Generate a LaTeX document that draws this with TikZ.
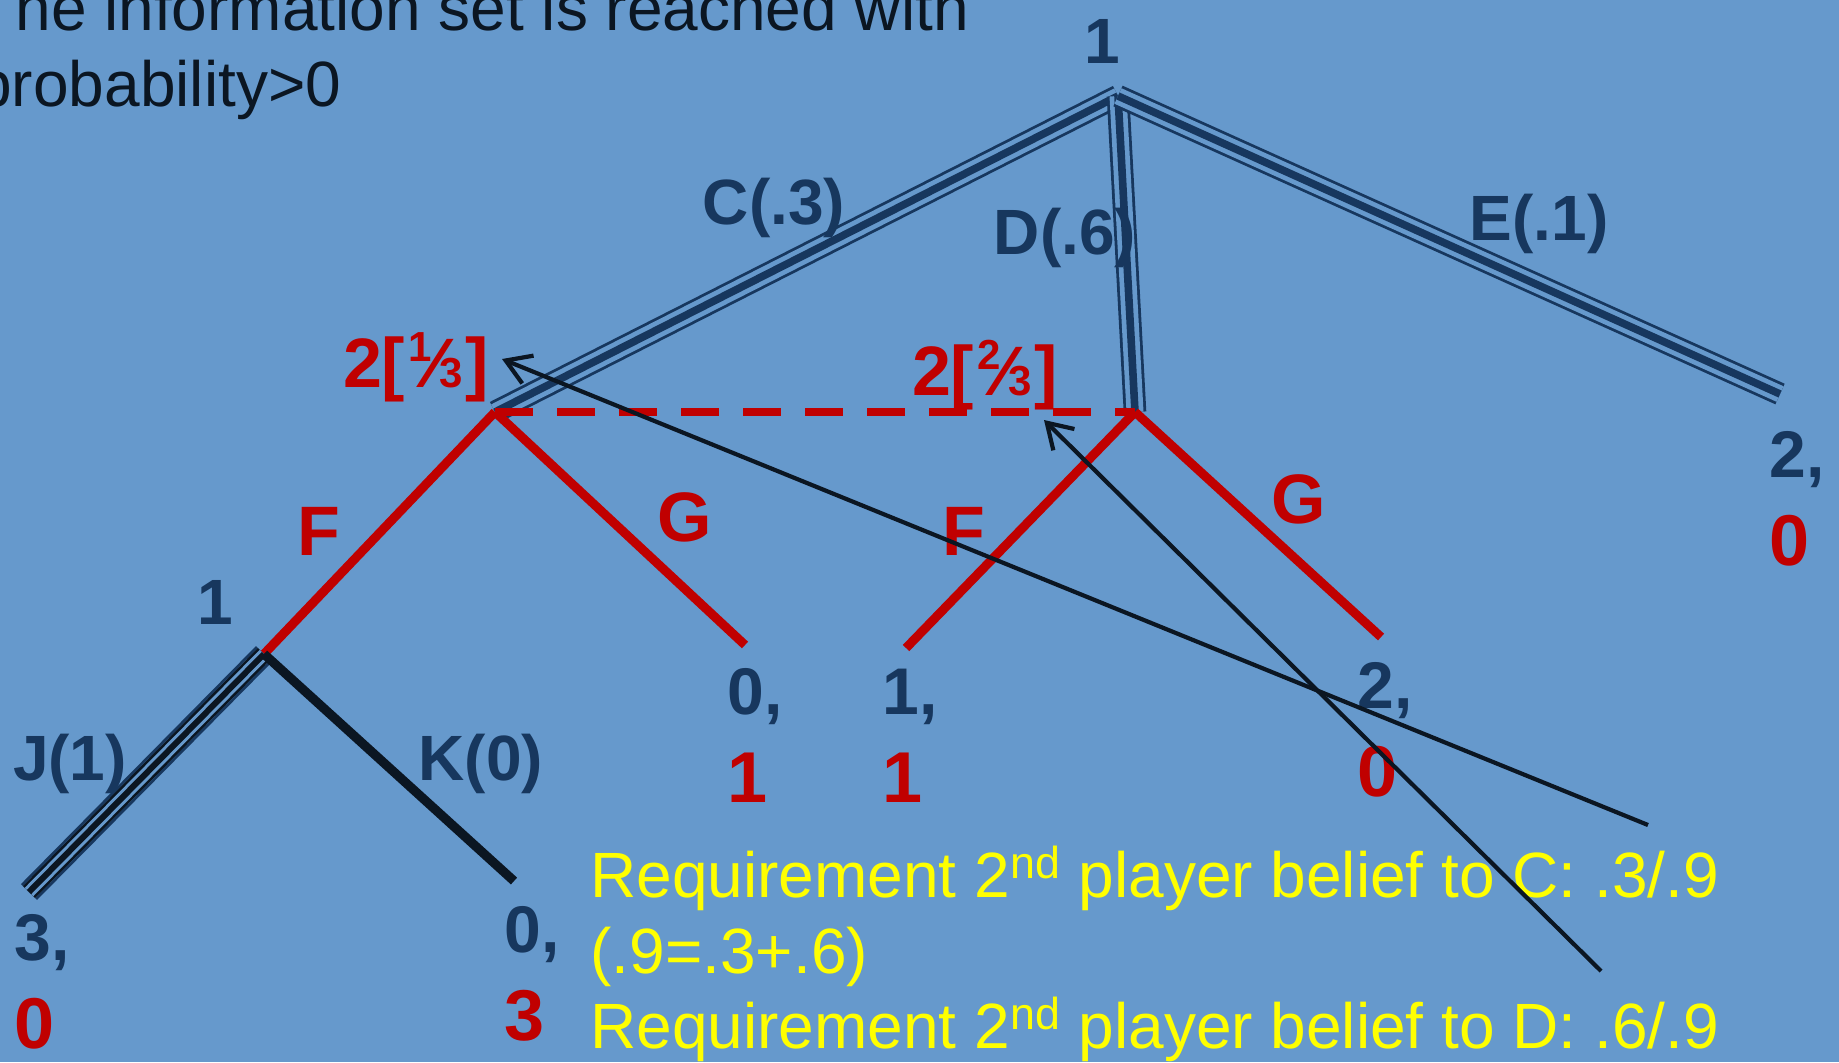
\documentclass[tikz,border=0pt]{standalone}
\usepackage{fontspec}
\setmainfont{Liberation Sans}
\usetikzlibrary{arrows.meta}
\definecolor{slide}{HTML}{6699CC}
\definecolor{ink}{HTML}{17375E}
\definecolor{pptred}{HTML}{C00000}
\definecolor{hint}{HTML}{FFFF00}
\definecolor{pen}{HTML}{0B1622}
\newcommand{\frc}[2]{\kern1.5pt\raisebox{13pt}{\fontsize{21}{21}\selectfont #1}%
  \kern-1pt⁄\kern-1pt{\fontsize{21}{21}\selectfont #2}\kern1.5pt}

\begin{document}
\begin{tikzpicture}[
    x=0.5pt, y=-0.5pt,
    >={Straight Barb[length=12pt,width=15pt]},
    lab/.style={font=\fontsize{32}{32}\selectfont\bfseries, text=ink,
                inner sep=0pt, anchor=base},
    rlab/.style={lab, font=\fontsize{35}{35}\selectfont\bfseries, text=pptred},
    pay/.style={font=\fontsize{33}{33}\selectfont\bfseries, text=ink,
                inner sep=0pt, anchor=base west},
    rpay/.style={pay, font=\fontsize{36}{36}\selectfont\bfseries, text=pptred},
    txt/.style={font=\fontsize{32}{32}\selectfont, inner sep=0pt, anchor=base west},
    move/.style={ink, line width=3.8pt,
                 preaction={draw, ink, line width=1.4pt, double=slide, double distance=8.5pt}},
    bmove/.style={move, pen, line width=3pt,
                  preaction={draw, pen, line width=1.3pt, double=slide, double distance=6pt}},
    kmove/.style={pen, line width=4.6pt},
    rmove/.style={pptred, line width=4.5pt},
    iset/.style={pptred, line width=4pt, dash pattern=on 19pt off 12pt},
    ptr/.style={->, line width=2.1pt, pen},
  ]

  \fill[slide] (0,0) rectangle (1839,1062);
  \useasboundingbox (0,0) rectangle (1839,1062);

  %% ---- heading ------------------------------------------------------
  \node[txt, text=pen] (head1) at (-24,30)  {The information set is reached with};
  \node[txt, text=pen] (head2) at (-24,106) {probability>0};

  %% ---- decision points ----------------------------------------------
  \coordinate (R)    at (1118,96);
  \coordinate (L2)   at (495,412);
  \coordinate (M2)   at (1135,412);
  \coordinate (Eend) at (1780,394);
  \coordinate (L1)   at (264,654);
  \coordinate (Gl)   at (745,645);
  \coordinate (Fr)   at (906,648);
  \coordinate (Gr)   at (1381,637);
  \coordinate (Jend) at (29,892);
  \coordinate (Kend) at (514,881);

  %% ---- first move of player 1 ---------------------------------------
  \draw[move] (R) -- (L2);
  \draw[move] (R) -- (M2);
  \draw[move] (R) -- (Eend);
  \node[lab] (root) at (1102,63)  {1};
  \node[lab] (mC)   at (774,224)  {C(.3)};
  \node[lab] (mD)   at (1065,254) {D(.6)};
  \node[lab] (mE)   at (1539,240) {E(.1)};

  %% ---- player 2 information set -------------------------------------
  \draw[iset] (L2) -- (M2);
  \draw[rmove] (L2) -- (L1);
  \draw[rmove] (L2) -- (Gl);
  \draw[rmove] (M2) -- (Fr);
  \draw[rmove] (M2) -- (Gr);
  \node[rlab] (bC) at (416,387) {2[\frc{1}{3}]};
  \node[rlab] (bD) at (985,395) {2[\frc{2}{3}]};
  \node[rlab] (mF1) at (319,555) {F};
  \node[rlab] (mG1) at (685,541) {G};
  \node[rlab] (mF2) at (964,555) {F};
  \node[rlab] (mG2) at (1299,523) {G};

  %% ---- last move of player 1 ----------------------------------------
  \draw[bmove] (L1) -- (Jend);
  \draw[kmove] (L1) -- (Kend);
  \node[lab] (low) at (215,624) {1};
  \node[lab] (mJ)  at (70,780)  {J(1)};
  \node[lab] (mK)  at (481,780) {K(0)};

  %% ---- payoffs ------------------------------------------------------
  \node[pay]  (pJ)  at (14,960)   {3,};
  \node[rpay] (qJ)  at (14,1048)  {0};
  \node[pay]  (pK)  at (504,952)  {0,};
  \node[rpay] (qK)  at (504,1040) {3};
  \node[pay]  (pG1) at (727,714)  {0,};
  \node[rpay] (qG1) at (727,802)  {1};
  \node[pay]  (pF2) at (882,714)  {1,};
  \node[rpay] (qF2) at (882,802)  {1};
  \node[pay]  (pG2) at (1357,708) {2,};
  \node[rpay] (qG2) at (1357,796) {0};
  \node[pay]  (pE)  at (1769,477) {2,};
  \node[rpay] (qE)  at (1769,565) {0};

  %% ---- belief requirements ------------------------------------------
  \node[txt, text=hint] (req1) at (590,897)
    {Requirement 2\textsuperscript{nd} player belief to C: .3/.9};
  \node[txt, text=hint] (req2) at (590,973) {(.9=.3+.6)};
  \node[txt, text=hint] (req3) at (590,1048)
    {Requirement 2\textsuperscript{nd} player belief to D: .6/.9};

  \coordinate (tC) at (1648,825);
  \coordinate (tD) at (1601,971);
  \coordinate (hC) at (502,359);
  \coordinate (hD) at (1044,420);
  \draw[ptr] (tC) -- (hC);
  \draw[ptr] (tD) -- (hD);

\end{tikzpicture}
\end{document}
